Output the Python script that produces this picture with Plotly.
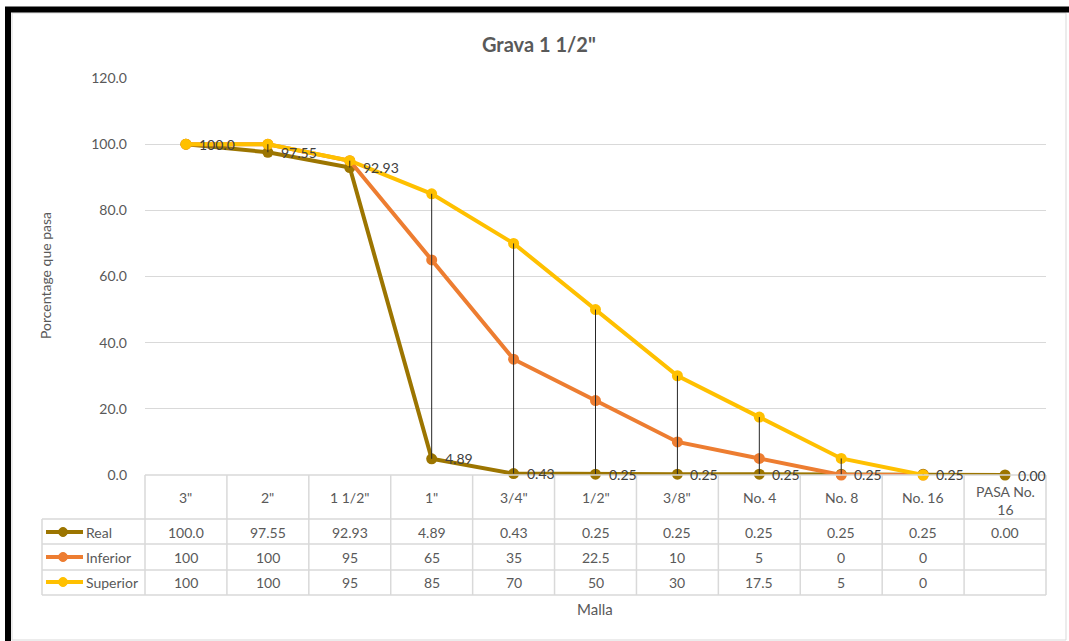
import plotly.graph_objects as go

# Sieve sizes and percent passing
mallas = ['3"', '2"', '1 1/2"', '1"', '3/4"', '1/2"', '3/8"', 'No. 4', 'No. 8', 'No. 16', 'PASA No.<br>16']
real = [100.0, 97.55, 92.93, 4.89, 0.43, 0.25, 0.25, 0.25, 0.25, 0.25, 0.00]
inferior = [100, 100, 95, 65, 35, 22.5, 10, 5, 0, 0, None]
superior = [100, 100, 95, 85, 70, 50, 30, 17.5, 5, 0, None]
y_ticks = [0, 20, 40, 60, 80, 100, 120]

C_REAL = "#9C7500"
C_INF = "#ED7D31"
C_SUP = "#FFC000"
TXT = "#595959"
GRID = "#D9D9D9"
FONT = "Lato, 'Open Sans', sans-serif"

W, H = 1069, 641
L, R, T, B = 145, 1046, 78, 475  # plot area in pixels


def px(x):
    return (x - L) / (R - L)


def py(y):
    return (B - y) / (B - T)


def fmt_real(v):
    return f"{v:.1f}" if v >= 100 else f"{v:.2f}"


def fmt_gen(v):
    return "" if v is None else f"{v:g}"


idx = list(range(len(mallas)))

fig = go.Figure()

fig.add_trace(go.Scatter(
    x=idx, y=real, mode="lines+markers", name="Real",
    line=dict(color=C_REAL, width=4), marker=dict(color=C_REAL, size=11), cliponaxis=False,
))
fig.add_trace(go.Scatter(
    x=idx, y=inferior, mode="lines+markers", name="Inferior",
    line=dict(color=C_INF, width=4), marker=dict(color=C_INF, size=11), cliponaxis=False,
))
fig.add_trace(go.Scatter(
    x=idx, y=superior, mode="lines+markers", name="Superior",
    line=dict(color=C_SUP, width=4), marker=dict(color=C_SUP, size=11), cliponaxis=False,
))

# High-low lines between the highest and lowest series at each sieve
hx, hy = [], []
for i in idx:
    vals = [v for v in (real[i], inferior[i], superior[i]) if v is not None]
    if len(vals) > 1 and max(vals) > min(vals):
        hx += [i, i, None]
        hy += [max(vals), min(vals), None]
fig.add_trace(go.Scatter(x=hx, y=hy, mode="lines", line=dict(color="#262626", width=1),
                         hoverinfo="skip", cliponaxis=False))

shapes = []
annotations = []

# Data labels for the Real series
for i, v in enumerate(real):
    annotations.append(dict(xref="x", yref="y", x=i, y=v, text=fmt_real(v), showarrow=False,
                            xanchor="left", yanchor="middle", xshift=11,
                            font=dict(family=FONT, size=14, color="#404040")))

# Outer frame and chart area border
shapes.append(dict(type="rect", xref="paper", yref="paper",
                   x0=px(8), x1=px(1072), y0=py(9.5), y1=py(646),
                   line=dict(color="black", width=6), layer="above"))
shapes.append(dict(type="rect", xref="paper", yref="paper",
                   x0=px(12), x1=px(1066), y0=py(13), y1=py(640),
                   line=dict(color=GRID, width=1), layer="below"))

# Data table grid
col_w = (R - L) / len(mallas)
row_lines = [475, 519, 544, 570, 595]
for k, yy in enumerate(row_lines):
    x0 = L if k == 0 else 42
    shapes.append(dict(type="line", xref="paper", yref="paper",
                       x0=px(x0), x1=px(R), y0=py(yy), y1=py(yy),
                       line=dict(color=GRID, width=1.5)))
for k in range(len(mallas) + 1):
    xx = L + k * col_w
    shapes.append(dict(type="line", xref="paper", yref="paper",
                       x0=px(xx), x1=px(xx), y0=py(475), y1=py(595),
                       line=dict(color=GRID, width=1.5)))
shapes.append(dict(type="line", xref="paper", yref="paper",
                   x0=px(42), x1=px(42), y0=py(519), y1=py(595),
                   line=dict(color=GRID, width=1.5)))

# Header row
for i, m in enumerate(mallas):
    yc = 500 if "<br>" in m else 497
    annotations.append(dict(xref="paper", yref="paper", x=px(L + (i + 0.5) * col_w), y=py(yc),
                            text=m, showarrow=False, xanchor="center", yanchor="middle",
                            font=dict(family=FONT, size=14, color=TXT)))

# Series rows with legend keys
rows = [("Real", real, fmt_real, C_REAL, 532),
        ("Inferior", inferior, fmt_gen, C_INF, 557),
        ("Superior", superior, fmt_gen, C_SUP, 582)]
for name, vals, f, col, yc in rows:
    shapes.append(dict(type="line", xref="paper", yref="paper",
                       x0=px(46), x1=px(83), y0=py(yc), y1=py(yc),
                       line=dict(color=col, width=4)))
    shapes.append(dict(type="circle", xref="paper", yref="paper",
                       x0=px(58.5), x1=px(67.5), y0=py(yc - 4.5), y1=py(yc + 4.5),
                       fillcolor=col, line=dict(color=col, width=1)))
    annotations.append(dict(xref="paper", yref="paper", x=px(84), y=py(yc), text=name,
                            showarrow=False, xanchor="left", yanchor="middle",
                            font=dict(family=FONT, size=14, color=TXT)))
    for i, v in enumerate(vals):
        if v is None:
            continue
        annotations.append(dict(xref="paper", yref="paper", x=px(L + (i + 0.5) * col_w), y=py(yc),
                                text=f(v), showarrow=False, xanchor="center", yanchor="middle",
                                font=dict(family=FONT, size=14, color=TXT)))

# Titles
annotations.append(dict(xref="paper", yref="paper", x=px(539), y=py(44), text="<b>Grava 1 1/2\"</b>",
                        showarrow=False, xanchor="center", yanchor="middle",
                        font=dict(family=FONT, size=20, color=TXT)))
annotations.append(dict(xref="paper", yref="paper", x=px(45), y=py(276), text="Porcentage que pasa",
                        showarrow=False, xanchor="center", yanchor="middle", textangle=-90,
                        font=dict(family=FONT, size=14, color=TXT)))
annotations.append(dict(xref="paper", yref="paper", x=px(595), y=py(609), text="Malla",
                        showarrow=False, xanchor="center", yanchor="middle",
                        font=dict(family=FONT, size=15, color=TXT)))

fig.update_layout(
    width=W, height=H,
    margin=dict(l=L, r=W - R, t=T, b=H - B, pad=0),
    paper_bgcolor="white", plot_bgcolor="white",
    showlegend=False,
    shapes=shapes, annotations=annotations,
    xaxis=dict(type="linear", range=[-0.5, len(mallas) - 0.5], showticklabels=False,
               showgrid=False, zeroline=False, showline=False, fixedrange=True),
    yaxis=dict(range=[0, 120], tickvals=y_ticks, tickformat=".1f", showgrid=True,
               gridcolor=GRID, gridwidth=1, zeroline=False, showline=False,
               ticks="", ticklabelstandoff=17,
               tickfont=dict(family=FONT, size=14, color=TXT), fixedrange=True),
)

fig.write_html("out.html")
